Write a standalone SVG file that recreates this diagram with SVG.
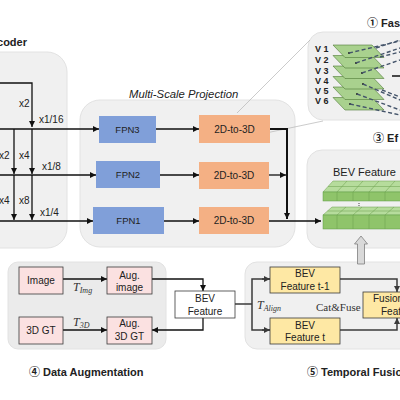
<svg xmlns="http://www.w3.org/2000/svg" width="400" height="400" viewBox="0 0 400 400">
<defs>
<marker id="ah" markerUnits="userSpaceOnUse" markerWidth="6" markerHeight="6" refX="6" refY="3" orient="auto"><path d="M0,0 L6,3 L0,6 z" fill="#111"/></marker>
<marker id="ahg" markerUnits="userSpaceOnUse" markerWidth="6" markerHeight="6" refX="6" refY="3" orient="auto"><path d="M0,0 L6,3 L0,6 z" fill="#3a3a3a"/></marker>
</defs>
<style>
.panel{fill:#f0f0f0;stroke:#e2e2e2;stroke-width:1}
.t{font-family:"Liberation Sans",Arial,sans-serif;fill:#222}
.title{font-family:"Liberation Sans","Noto Sans CJK SC",sans-serif;font-weight:bold;font-size:11px;fill:#222}
.ser{font-family:"Liberation Serif","Times New Roman",serif;fill:#333}
.fpn{fill:#809fd9}
.p2d{fill:#f4b084}
.pink{fill:#fbe1e1;stroke:#3a3a3a;stroke-width:0.8}
.yel{fill:#fee8a4;stroke:#3a3a3a;stroke-width:0.8}
.ln{stroke:#111;stroke-width:1.3;fill:none}
.lg{stroke:#3a3a3a;stroke-width:1.5;fill:none}
.dash{stroke:#44546a;stroke-width:1.4;stroke-dasharray:4 2.5;fill:none}
.faint{stroke:#b4b4b4;stroke-width:0.7;fill:none}
.plane{fill:#a9d18e;stroke:#4f7a35;stroke-width:0.6}
.gtop{fill:#b6dc9c;stroke:#6a9e4c;stroke-width:0.5}
.gfront{fill:#8fc46a;stroke:#5e9a45;stroke-width:0.5}
.gl{stroke:#6a9e4c;stroke-width:0.5;fill:none}
</style>

<!-- panels -->
<rect class="panel" x="-25" y="52" width="92" height="196" rx="20"/>
<rect class="panel" x="80" y="100" width="215" height="147" rx="20"/>
<rect class="panel" x="308" y="32" width="120" height="88" rx="15"/>
<rect class="panel" x="307" y="150" width="120" height="98" rx="15"/>
<rect class="panel" x="8" y="262" width="158" height="87" rx="10" style="fill:#ebebeb"/>
<rect class="panel" x="245" y="262" width="180" height="87" rx="12"/>

<!-- titles -->
<text class="title" x="27" y="46" text-anchor="end">coder</text>
<text class="t" x="129" y="98" font-size="11.3" font-style="italic">Multi-Scale Projection</text>
<text class="title" x="367" y="27" font-size="12">① Fas</text>
<text class="title" x="373" y="142" font-size="12">③ Ef</text>
<text class="title" x="29" y="376">④ Data Augmentation</text>
<text class="title" x="307" y="376">⑤ Temporal Fusio</text>

<!-- faint zoom lines -->
<line class="faint" x1="237" y1="113" x2="310" y2="40"/>
<line class="faint" x1="247" y1="137" x2="323" y2="121"/>

<!-- connectors -->
<g id="connectors">
<path class="ln" d="M0,83 H32 V127" marker-end="url(#ah)"/>
<line class="ln" x1="32" y1="129" x2="32" y2="174" marker-end="url(#ah)"/>
<line class="ln" x1="32" y1="175" x2="32" y2="220" marker-end="url(#ah)"/>
<line class="ln" x1="14" y1="129" x2="14" y2="174" marker-end="url(#ah)"/>
<line class="ln" x1="14" y1="175" x2="14" y2="220" marker-end="url(#ah)"/>
<line class="ln" x1="0" y1="129" x2="99" y2="129" marker-end="url(#ah)"/>
<line class="ln" x1="0" y1="175" x2="96" y2="175" marker-end="url(#ah)"/>
<line class="ln" x1="0" y1="221" x2="93" y2="221" marker-end="url(#ah)"/>
<line class="ln" x1="156" y1="129" x2="199" y2="129" marker-end="url(#ah)"/>
<line class="ln" x1="160" y1="175" x2="199" y2="175" marker-end="url(#ah)"/>
<line class="ln" x1="164" y1="221" x2="199" y2="221" marker-end="url(#ah)"/>
<path d="M270,129 H287 V219" stroke="#111" stroke-width="2" fill="none" marker-end="url(#ah)"/>
<line class="ln" x1="269" y1="175" x2="286" y2="175" marker-end="url(#ah)"/>
<line class="ln" x1="269" y1="221" x2="321" y2="221" marker-end="url(#ah)"/>
<line class="ln" x1="63" y1="279" x2="107" y2="279" marker-end="url(#ah)"/>
<line class="ln" x1="63" y1="330" x2="107" y2="330" marker-end="url(#ah)"/>
<path class="ln" d="M152,279 H203 V291" marker-end="url(#ah)"/>
<path class="ln" d="M203,318 V330 H152" marker-end="url(#ah)"/>
<path class="lg" d="M235,304 H252"/>
<path class="lg" d="M270,279 H252 V330 H270"/>
<line class="lg" x1="262" y1="279" x2="270" y2="279" marker-end="url(#ahg)"/>
<line class="lg" x1="262" y1="330" x2="270" y2="330" marker-end="url(#ahg)"/>
<path class="lg" d="M340,279 H397 V292" marker-end="url(#ahg)"/>
<path class="lg" d="M340,330 H397 V318" marker-end="url(#ahg)"/>
<path d="M361,236 L367.5,244 L364.5,244 L364.5,264 L357.5,264 L357.5,244 L354.5,244 z" fill="#d9d9d9" stroke="#7f7f7f" stroke-width="0.8"/>
</g>

<!-- encoder labels -->
<g class="t" font-size="10">
<text x="19" y="107">x2</text>
<text x="39" y="123">x1/16</text>
<text x="-1" y="159">x2</text>
<text x="19" y="159">x4</text>
<text x="42" y="170">x1/8</text>
<text x="-1" y="204">x4</text>
<text x="19" y="204">x8</text>
<text x="40" y="216">x1/4</text>
</g>

<!-- FPN -->
<g id="fpn3"><rect class="fpn" x="99" y="116" width="57" height="27"/><text class="t" x="127.5" y="133" font-size="9.5" text-anchor="middle">FPN3</text></g>
<g id="fpn2"><rect class="fpn" x="96" y="161" width="64" height="27"/><text class="t" x="128" y="178" font-size="9.5" text-anchor="middle">FPN2</text></g>
<g id="fpn1"><rect class="fpn" x="93" y="207" width="71" height="27"/><text class="t" x="128.5" y="224" font-size="9.5" text-anchor="middle">FPN1</text></g>

<!-- 2D-to-3D -->
<g id="p3"><rect class="p2d" x="199" y="115" width="71" height="28"/><text class="t" x="234.5" y="133" font-size="10" text-anchor="middle">2D-to-3D</text></g>
<g id="p2"><rect class="p2d" x="199" y="162" width="70" height="27"/><text class="t" x="234" y="179" font-size="10" text-anchor="middle">2D-to-3D</text></g>
<g id="p1"><rect class="p2d" x="199" y="207" width="70" height="27"/><text class="t" x="234" y="224" font-size="10" text-anchor="middle">2D-to-3D</text></g>

<!-- fast ray planes -->
<g id="views">
<polygon class="plane" points="333,97.5 372,97.5 384,110 345,110"/>
<polygon class="plane" points="333,87 372,87 384,99.5 345,99.5"/>
<polygon class="plane" points="333,76.5 372,76.5 384,89 345,89"/>
<polygon class="plane" points="333,66 372,66 384,78.5 345,78.5"/>
<polygon class="plane" points="333,55.5 372,55.5 384,68 345,68"/>
<polygon class="plane" points="333,45 372,45 384,57.5 345,57.5"/>
<g fill="#222">
<circle cx="349" cy="53" r="1"/><circle cx="356" cy="63" r="1"/><circle cx="362" cy="73" r="1"/>
<circle cx="363" cy="84" r="1"/><circle cx="357" cy="94" r="1"/><circle cx="350" cy="104" r="1"/>
</g>
<g class="t" font-size="9" font-weight="bold" fill="#333">
<text x="315" y="52">V 1</text><text x="315" y="63">V 2</text><text x="315" y="74">V 3</text>
<text x="315" y="84">V 4</text><text x="315" y="94">V 5</text><text x="315" y="104">V 6</text>
</g>
<line class="dash" x1="349" y1="53" x2="400" y2="41"/>
<line class="dash" x1="376" y1="48" x2="400" y2="40"/>
<line class="dash" x1="356" y1="63" x2="400" y2="48"/>
<line class="dash" x1="380" y1="57" x2="400" y2="52"/>
<line class="dash" x1="362" y1="73" x2="400" y2="60"/>
<line x1="392" y1="76" x2="400" y2="76" stroke="#111" stroke-width="1.5"/>
<line class="dash" x1="363" y1="84" x2="400" y2="100"/>
<line class="dash" x1="382" y1="90" x2="400" y2="97"/>
<line class="dash" x1="357" y1="94" x2="400" y2="110"/>
<line class="dash" x1="350" y1="104" x2="400" y2="115"/>
</g>

<!-- BEV feature grids -->
<g id="bevgrid">
<text class="t" x="333" y="176" font-size="11">BEV Feature</text>
<polygon class="gtop" points="323,192 333,181 410,181 410,192"/>
<rect class="gfront" x="323" y="192" width="90" height="9"/>
<path class="gl" d="M337,192 L347,181 M353,192 L363,181 M369,192 L379,181 M385,192 L395,181 M328,186.5 H410 M337,192 V201 M353,192 V201 M369,192 V201 M385,192 V201"/>
<g fill="#333"><circle cx="359" cy="203.5" r="0.6"/><circle cx="359" cy="205.5" r="0.6"/><circle cx="359" cy="207.5" r="0.6"/></g>
<polygon class="gtop" points="323,215 332,207 410,207 410,215"/>
<rect class="gfront" x="323" y="215" width="90" height="14"/>
<path class="gl" d="M337,215 L346,207 M353,215 L362,207 M369,215 L378,207 M385,215 L394,207 M327.5,211 H410 M337,215 V229 M353,215 V229 M369,215 V229 M385,215 V229"/>
</g>

<!-- data augmentation -->
<g id="image"><rect class="pink" x="19" y="267" width="44" height="27"/><text class="t" x="41" y="284" font-size="10" text-anchor="middle">Image</text></g>
<g id="augimage"><rect class="pink" x="107" y="267" width="45" height="27"/><text class="t" x="129.5" y="279" font-size="10" text-anchor="middle">Aug.</text><text class="t" x="129.5" y="291" font-size="10" text-anchor="middle">image</text></g>
<g id="gt3d"><rect class="pink" x="19" y="317" width="44" height="27"/><text class="t" x="41" y="334" font-size="10" text-anchor="middle">3D GT</text></g>
<g id="auggt"><rect class="pink" x="107" y="317" width="45" height="27"/><text class="t" x="129.5" y="327" font-size="10" text-anchor="middle">Aug.</text><text class="t" x="129.5" y="340" font-size="10" text-anchor="middle">3D GT</text></g>
<text class="ser" x="73" y="291" font-size="12" font-style="italic">T<tspan font-size="8" dy="2">Img</tspan></text>
<text class="ser" x="73" y="326" font-size="12" font-style="italic">T<tspan font-size="8" dy="2">3D</tspan></text>

<g id="bevfeat"><rect x="175" y="291" width="60" height="27" fill="#fff" stroke="#3a3a3a" stroke-width="0.8"/><text class="t" x="205" y="302" font-size="10" text-anchor="middle">BEV</text><text class="t" x="205" y="315" font-size="10" text-anchor="middle">Feature</text></g>

<!-- temporal -->
<g id="bevt1"><rect class="yel" x="270" y="267" width="70" height="26"/><text class="t" x="305" y="277" font-size="10" text-anchor="middle">BEV</text><text class="t" x="305" y="290" font-size="10" text-anchor="middle">Feature t-1</text></g>
<g id="bevt"><rect class="yel" x="270" y="318" width="70" height="26"/><text class="t" x="305" y="329" font-size="10" text-anchor="middle">BEV</text><text class="t" x="305" y="341" font-size="10" text-anchor="middle">Feature t</text></g>
<g id="fusion"><rect class="yel" x="363" y="292" width="50" height="26"/><text class="t" x="373" y="302" font-size="10">Fusion</text><text class="t" x="381" y="315" font-size="10">Feat</text></g>
<text class="ser" x="257" y="309" font-size="12" font-style="italic">T<tspan font-size="8" dy="2">Align</tspan></text>
<text class="ser" x="316" y="311" font-size="11">Cat&amp;Fuse</text>
</svg>
